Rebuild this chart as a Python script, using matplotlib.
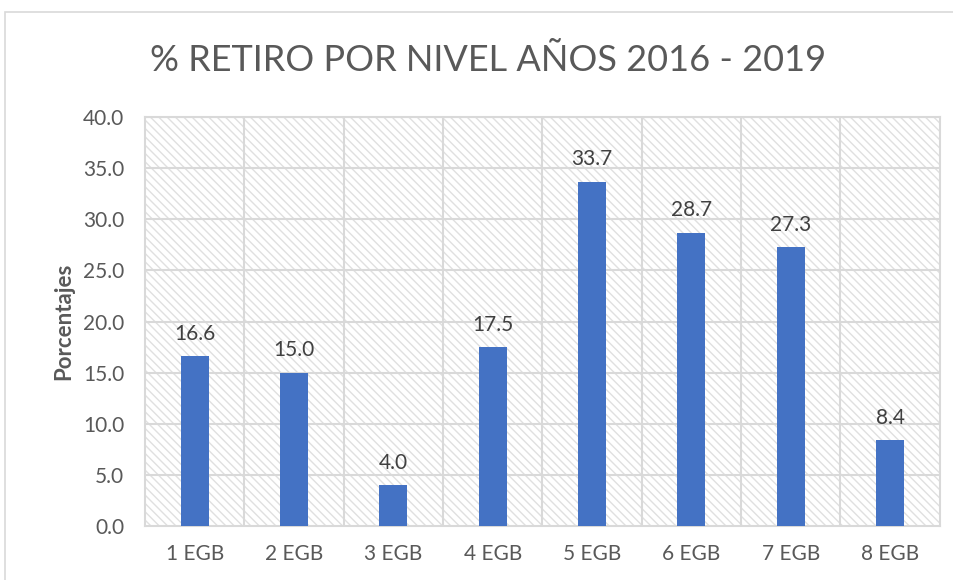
import numpy as np
import matplotlib.pyplot as plt
from matplotlib.patches import Rectangle

niveles = ['1 EGB', '2 EGB', '3 EGB', '4 EGB', '5 EGB', '6 EGB', '7 EGB', '8 EGB']
retiro = [16.6, 15.0, 4.0, 17.5, 33.7, 28.7, 27.3, 8.4]

plt.rcParams['font.family'] = ['Lato', 'DejaVu Sans']
plt.rcParams['hatch.linewidth'] = 1.0

fig = plt.figure(figsize=(9.54, 5.8), dpi=100)
ax = fig.add_axes([0.152, 0.093, 0.833, 0.705])

# outer chart frame
fig.patches.append(Rectangle((5 / 954, -0.05), 1.1, 1 - 12 / 580 + 0.05,
                             transform=fig.transFigure, fill=False,
                             edgecolor='#d9d9d9', linewidth=1.2))

# hatched plot area background
ax.add_patch(Rectangle((0, 0), 1, 1, transform=ax.transAxes, facecolor='white',
                       edgecolor='#e0e0e0', hatch='\\\\\\\\', linewidth=0, zorder=0))

x = np.arange(len(niveles))
bars = ax.bar(x, retiro, width=0.28, color='#4472c4', zorder=3)

for b, v in zip(bars, retiro):
    ax.text(b.get_x() + b.get_width() / 2, v + 1.2, f'{v:.1f}', ha='center', va='bottom',
            fontsize=15, color='#404040')

ax.set_xlim(-0.5, len(niveles) - 0.5)
ax.set_ylim(0, 40)
ax.set_yticks(np.arange(0, 40.1, 5))
ax.set_yticklabels([f'{t:.1f}' for t in np.arange(0, 40.1, 5)])
ax.set_xticks(x)
ax.set_xticklabels(niveles)

# grid: horizontal at ticks, vertical at category boundaries
for t in np.arange(5, 40.1, 5):
    ax.axhline(t, color='#d9d9d9', linewidth=1.5, zorder=1)
for b in np.arange(0.5, len(niveles) - 0.5, 1):
    ax.axvline(b, color='#d9d9d9', linewidth=1.5, zorder=1)

for s in ax.spines.values():
    s.set_color('#d9d9d9')
    s.set_linewidth(1.5)

ax.tick_params(length=0, labelsize=15, colors='#595959')
ax.tick_params(axis='y', pad=15)
ax.tick_params(axis='x', pad=13)
ax.set_ylabel('Porcentajes', fontsize=16, fontweight='bold', color='#595959', labelpad=6)

fig.text(0.512, 0.895, '% RETIRO POR NIVEL AÑOS 2016 - 2019', ha='center', va='center',
         fontsize=26, color='#595959')

fig.savefig('out.png', dpi=100)
